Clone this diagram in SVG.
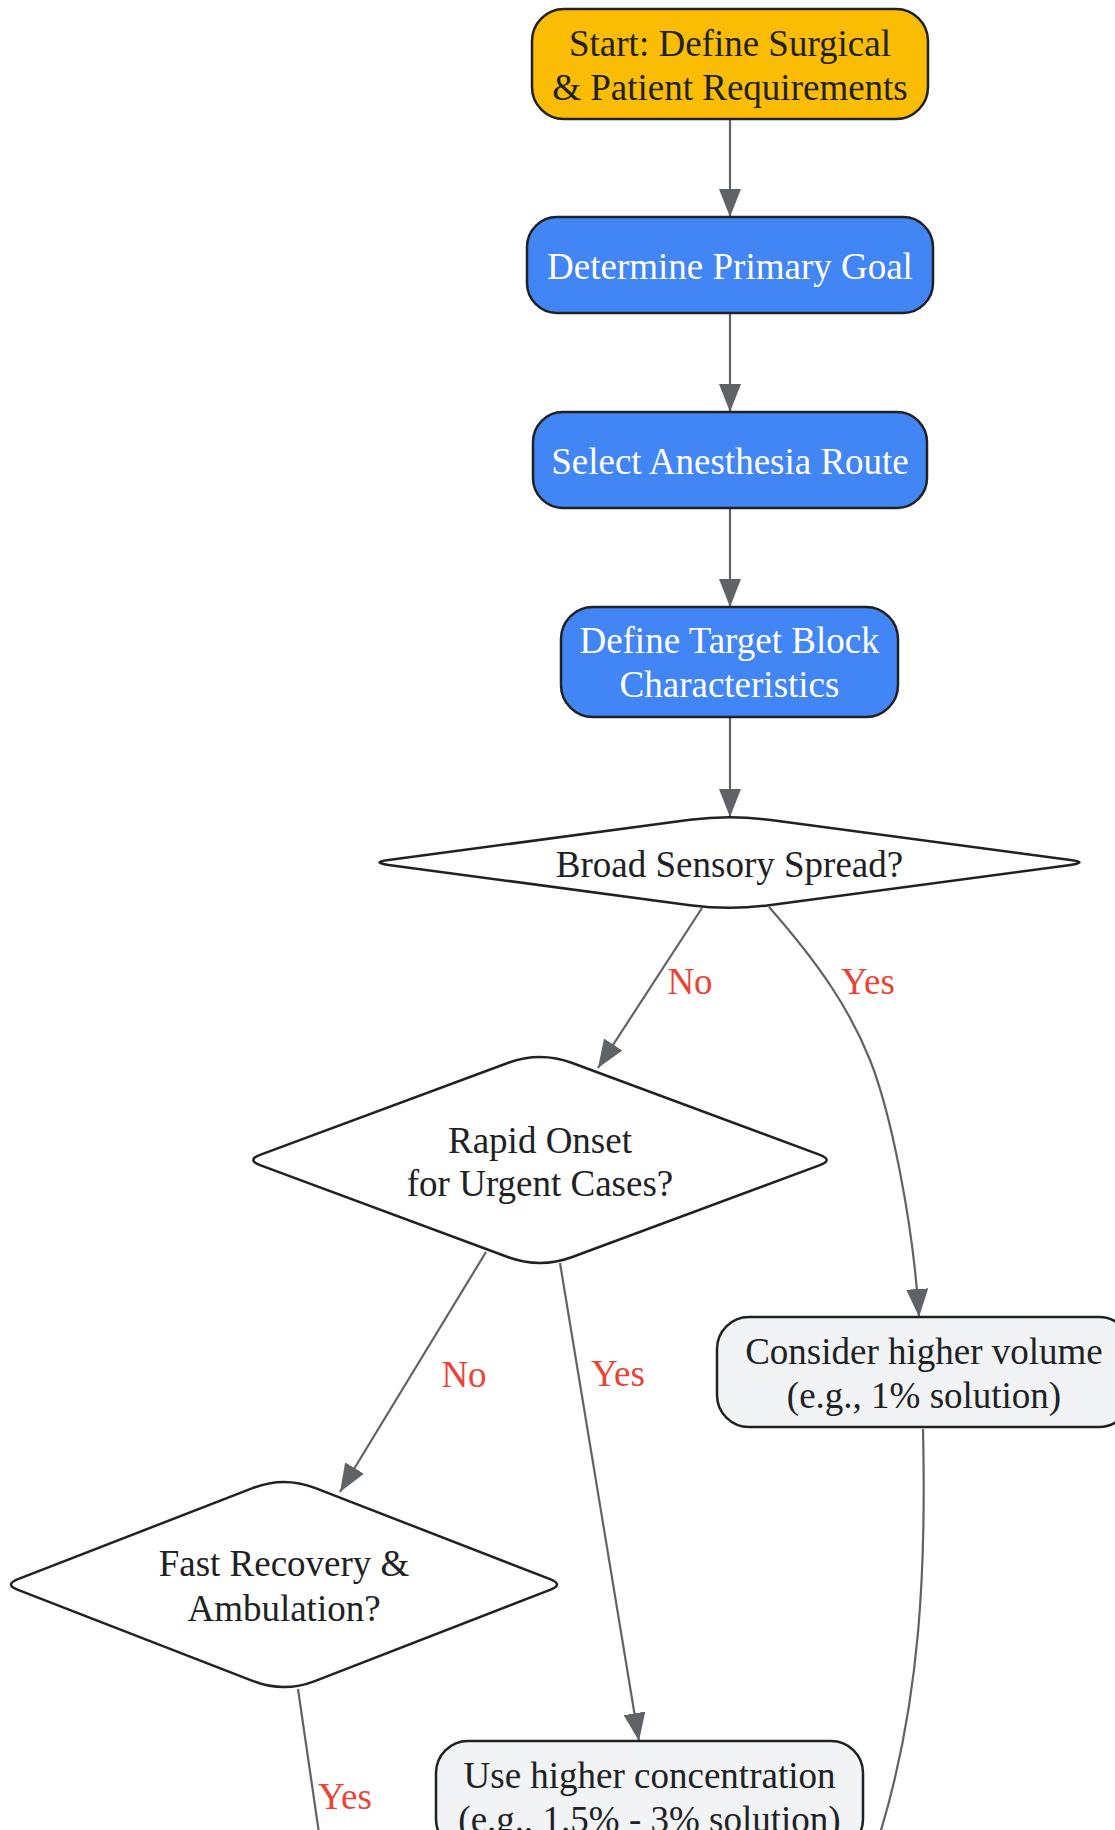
<svg xmlns="http://www.w3.org/2000/svg" width="1115" height="1830" viewBox="0 0 1115 1830">
<style>
.t{font-family:"Liberation Serif","Times New Roman",serif;font-size:37px;text-anchor:middle;fill:#202124}
.w{fill:#ffffff}
.lbl{font-family:"Liberation Serif","Times New Roman",serif;font-size:37px;text-anchor:middle;fill:#EA4335}
.start{fill:#FBBC04;stroke:#202124;stroke-width:2.5}
.blue{fill:#4285F4;stroke:#202124;stroke-width:2.5}
.gray{fill:#F1F3F4;stroke:#202124;stroke-width:2.5}
.dia{fill:#ffffff;stroke:#202124;stroke-width:2.5}
.e{fill:none;stroke:#5F6368;stroke-width:2.2}
</style>
<defs>
<marker id="ah" markerUnits="userSpaceOnUse" markerWidth="28" markerHeight="22" refX="28" refY="11" orient="auto">
<path d="M0,0 L28,11 L0,22 Z" fill="#5F6368"/>
</marker>
</defs>
<rect width="1115" height="1830" fill="#ffffff"/>
<g id="connectors">
<path class="e" d="M730,119 L730,217" marker-end="url(#ah)"/>
<path class="e" d="M730,313 L730,412" marker-end="url(#ah)"/>
<path class="e" d="M730,508 L730,607" marker-end="url(#ah)"/>
<path class="e" d="M730,717 L730,817" marker-end="url(#ah)"/>
<path class="e" d="M702,908 L598,1068" marker-end="url(#ah)"/>
<path class="e" d="M769,907 C820,965 850,1010 870,1060 S913,1220 919,1317" marker-end="url(#ah)"/>
<path class="e" d="M486,1252 L340,1492" marker-end="url(#ah)"/>
<path class="e" d="M560,1263 L639,1741" marker-end="url(#ah)"/>
<path class="e" d="M298,1689 L320,1840"/>
<path class="e" d="M923,1429 C926,1560 922,1700 878,1840"/>
<text class="lbl" x="690" y="994">No</text>
<text class="lbl" x="868" y="994">Yes</text>
<text class="lbl" x="464" y="1387">No</text>
<text class="lbl" x="618" y="1386">Yes</text>
<text class="lbl" x="345" y="1809">Yes</text>
</g>
<g id="start">
<rect class="start" x="532" y="9" width="396" height="110" rx="32"/>
<text class="t" x="730" y="56">Start: Define Surgical</text>
<text class="t" x="730" y="100">&amp; Patient Requirements</text>
</g>
<g id="goal">
<rect class="blue" x="527" y="217" width="406" height="96" rx="30"/>
<text class="t w" x="730" y="279">Determine Primary Goal</text>
</g>
<g id="route">
<rect class="blue" x="533" y="412" width="394" height="96" rx="30"/>
<text class="t w" x="730" y="474">Select Anesthesia Route</text>
</g>
<g id="target">
<rect class="blue" x="561" y="607" width="337" height="110" rx="32"/>
<text class="t w" x="729.5" y="653">Define Target Block</text>
<text class="t w" x="729.5" y="697">Characteristics</text>
</g>
<g id="broad">
<path class="dia" d="M690,819.8 Q729.5,814.5 769,819.8 L1070.5,860.1 Q1088.5,862.5 1070.5,864.9 L769,905.2 Q729.5,910.5 690,905.2 L388.5,864.9 Q370.5,862.5 388.5,860.1 Z"/>
<text class="t" x="729.5" y="877">Broad Sensory Spread?</text>
</g>
<g id="rapid">
<path class="dia" d="M507.7,1063 Q540,1051 572.3,1063 L819.3,1154.6 Q834,1160 819.3,1165.4 L572.3,1257 Q540,1269 507.7,1257 L260.7,1165.4 Q246,1160 260.7,1154.6 Z"/>
<text class="t" x="540" y="1153">Rapid Onset</text>
<text class="t" x="540" y="1196">for Urgent Cases?</text>
</g>
<g id="fast">
<path class="dia" d="M253.2,1487.9 Q284,1476 314.8,1487.9 L550,1579.1 Q564,1584.5 550,1589.9 L314.8,1681.1 Q284,1693 253.2,1681.1 L18,1589.9 Q4,1584.5 18,1579.1 Z"/>
<text class="t" x="284" y="1576">Fast Recovery &amp;</text>
<text class="t" x="284" y="1621">Ambulation?</text>
</g>
<g id="volume">
<rect class="gray" x="717" y="1317" width="414" height="110" rx="32"/>
<text class="t" x="924" y="1364">Consider higher volume</text>
<text class="t" x="924" y="1408">(e.g., 1% solution)</text>
</g>
<g id="concentration">
<rect class="gray" x="436" y="1741" width="427" height="110" rx="32"/>
<text class="t" x="649.5" y="1788">Use higher concentration</text>
<text class="t" x="649.5" y="1832">(e.g., 1.5% - 3% solution)</text>
</g>
</svg>
